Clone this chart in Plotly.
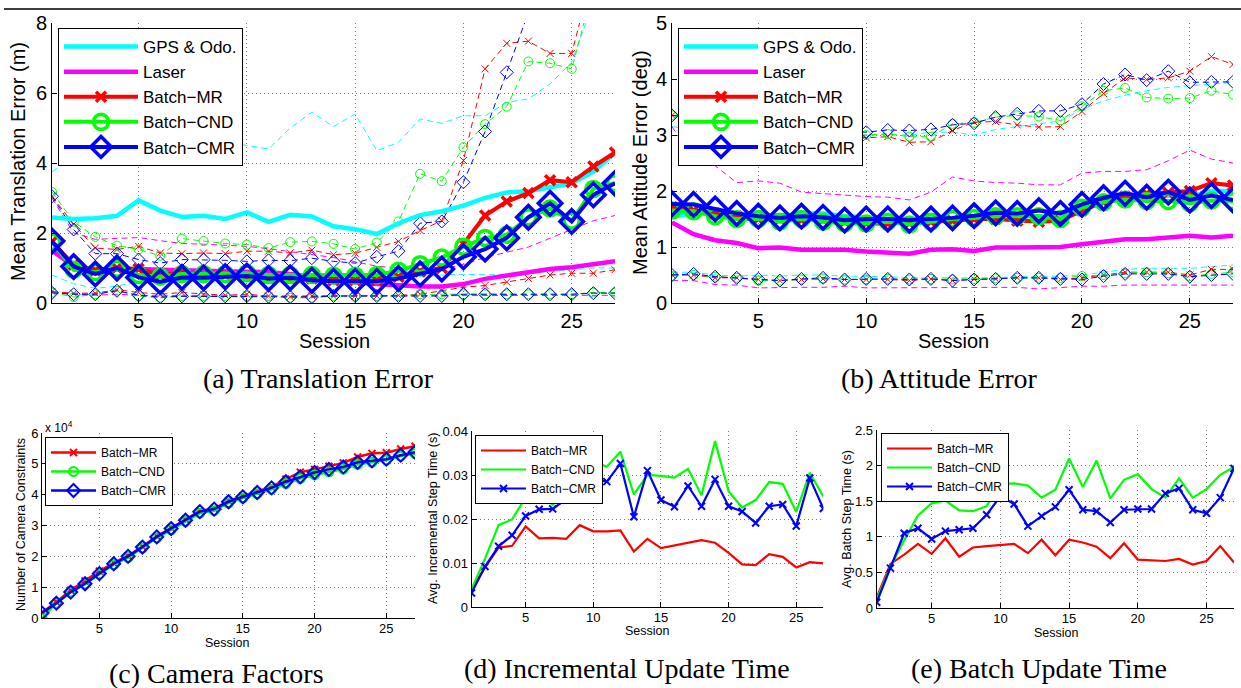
import plotly.graph_objects as go

W, H = 1241, 688
sessions = list(range(1, 28))

# ---------------- (a) Translation error (m) ----------------
trans_gps = [2.44, 2.40, 2.42, 2.49, 2.93, 2.64, 2.46, 2.49, 2.40, 2.59, 2.32, 2.52, 2.47,
             2.19, 2.11, 1.97, 2.28, 2.51, 2.62, 2.78, 3.00, 3.16, 3.19, 3.29, 3.42, 3.75, 4.30]
trans_gps_hi = [3.75, 4.20, 4.50, 4.60, 4.80, 4.70, 4.60, 4.50, 4.60, 4.50, 4.40, 5.00, 5.45,
                5.04, 5.40, 4.35, 4.59, 5.26, 5.13, 5.35, 5.35, 5.73, 5.83, 6.26, 6.88, 8.60, 10.0]
trans_gps_lo = [0.80, 0.55, 0.42, 0.48, 0.62, 0.60, 0.62, 0.60, 0.60, 0.60, 0.60, 0.60, 0.60,
                0.62, 0.62, 0.65, 0.70, 0.75, 0.80, 0.82, 0.80, 0.80, 0.85, 0.90, 0.95, 1.00, 1.00]
trans_laser = [1.50, 1.05, 0.95, 0.97, 0.97, 0.95, 0.94, 0.93, 0.92, 0.90, 0.88, 0.83, 0.75,
               0.66, 0.60, 0.54, 0.50, 0.47, 0.47, 0.54, 0.69, 0.78, 0.88, 0.97, 1.02, 1.10, 1.19]
trans_laser_hi = [3.00, 2.00, 1.82, 1.85, 1.87, 1.78, 1.70, 1.68, 1.65, 1.62, 1.55, 1.47, 1.40,
                  1.30, 1.18, 1.05, 1.00, 0.98, 0.97, 1.10, 1.30, 1.45, 1.60, 1.85, 2.10, 2.35, 2.50]
trans_laser_lo = [0.30, 0.25, 0.22, 0.25, 0.22, 0.20, 0.22, 0.20, 0.20, 0.20, 0.20, 0.20, 0.20,
                  0.20, 0.20, 0.20, 0.20, 0.20, 0.20, 0.21, 0.21, 0.21, 0.21, 0.21, 0.22, 0.22, 0.22]
trans_mr = [1.75, 1.09, 0.93, 1.00, 0.97, 0.80, 0.87, 0.80, 0.80, 0.75, 0.72, 0.70, 0.70,
            0.65, 0.65, 0.65, 0.75, 0.90, 1.00, 1.69, 2.50, 2.90, 3.14, 3.51, 3.45, 3.90, 4.30]
trans_mr_hi = [3.05, 2.25, 1.57, 1.53, 1.62, 1.43, 1.41, 1.43, 1.41, 1.48, 1.48, 1.43, 1.51,
               1.38, 1.42, 1.59, 1.76, 2.07, 2.35, 4.07, 6.69, 7.42, 7.48, 7.13, 7.13, 9.50, 11.0]
trans_mr_lo = [0.33, 0.28, 0.28, 0.38, 0.30, 0.25, 0.30, 0.25, 0.22, 0.25, 0.20, 0.18, 0.20,
               0.20, 0.20, 0.20, 0.22, 0.25, 0.35, 0.45, 0.50, 0.60, 0.70, 0.80, 0.85, 0.85, 0.95]
trans_cnd = [1.75, 0.95, 0.88, 0.98, 0.80, 0.75, 0.83, 0.83, 0.83, 0.85, 0.80, 0.80, 0.80,
             0.78, 0.78, 0.80, 0.92, 1.11, 1.30, 1.61, 1.86, 1.95, 2.45, 2.70, 2.35, 3.26, 3.42]
trans_cnd_hi = [3.17, 2.32, 1.89, 1.64, 1.53, 1.35, 1.84, 1.77, 1.70, 1.67, 1.57, 1.74, 1.76,
                1.69, 1.54, 1.73, 2.33, 3.69, 3.48, 4.45, 5.11, 5.61, 6.90, 6.85, 6.69, 9.00, 10.5]
trans_cnd_lo = [0.30, 0.17, 0.25, 0.35, 0.20, 0.15, 0.20, 0.20, 0.20, 0.20, 0.20, 0.15, 0.15,
                0.20, 0.20, 0.20, 0.20, 0.25, 0.25, 0.25, 0.25, 0.25, 0.25, 0.25, 0.25, 0.30, 0.30]
trans_cmr = [1.77, 1.04, 0.83, 1.00, 0.73, 0.61, 0.73, 0.72, 0.75, 0.77, 0.70, 0.72, 0.65,
             0.62, 0.62, 0.62, 0.70, 0.83, 0.97, 1.32, 1.54, 1.86, 2.45, 2.85, 2.33, 3.09, 3.42]
trans_cmr_hi = [3.05, 2.10, 1.41, 1.41, 1.24, 1.14, 1.24, 1.24, 1.22, 1.19, 1.22, 1.21, 1.28,
                1.19, 1.14, 1.32, 1.48, 2.28, 2.33, 3.45, 4.90, 6.59, 8.40, 10.0, 11.0, 12.0, 13.0]
trans_cmr_lo = [0.29, 0.25, 0.25, 0.35, 0.22, 0.17, 0.19, 0.19, 0.19, 0.20, 0.18, 0.17, 0.17,
                0.20, 0.20, 0.20, 0.20, 0.20, 0.20, 0.25, 0.25, 0.25, 0.25, 0.25, 0.25, 0.28, 0.28]

# ---------------- (b) Attitude error (deg) ----------------
att_gps = [1.55, 1.60, 1.60, 1.58, 1.58, 1.55, 1.60, 1.60, 1.55, 1.52, 1.50, 1.48, 1.52,
           1.50, 1.50, 1.55, 1.55, 1.55, 1.52, 1.70, 1.85, 1.90, 1.90, 1.92, 1.90, 2.00, 2.00]
att_gps_hi = [3.15, 3.10, 3.05, 3.00, 3.00, 3.00, 3.00, 3.00, 3.00, 3.00, 3.00, 3.00, 3.05,
              3.05, 3.00, 3.10, 3.15, 3.20, 3.25, 3.46, 3.61, 3.71, 3.79, 3.85, 3.88, 3.90, 3.94]
att_gps_lo = [0.55, 0.55, 0.50, 0.48, 0.50, 0.48, 0.50, 0.50, 0.48, 0.48, 0.47, 0.45, 0.45,
              0.45, 0.45, 0.45, 0.47, 0.47, 0.48, 0.50, 0.55, 0.60, 0.62, 0.62, 0.62, 0.65, 0.68]
att_laser = [1.44, 1.23, 1.12, 1.07, 0.98, 0.99, 0.95, 0.95, 0.95, 0.92, 0.90, 0.88, 0.95,
             0.96, 0.93, 0.99, 0.99, 0.99, 1.00, 1.05, 1.10, 1.14, 1.14, 1.17, 1.20, 1.17, 1.20]
att_laser_hi = [3.15, 2.55, 2.45, 2.15, 2.18, 2.14, 1.98, 1.95, 1.92, 1.90, 1.89, 1.84, 1.98,
                2.25, 2.18, 2.15, 2.14, 2.11, 2.11, 2.32, 2.35, 2.35, 2.38, 2.54, 2.73, 2.57, 2.50]
att_laser_lo = [0.40, 0.40, 0.33, 0.32, 0.27, 0.28, 0.28, 0.28, 0.30, 0.27, 0.27, 0.27, 0.28,
                0.28, 0.28, 0.28, 0.28, 0.25, 0.28, 0.30, 0.30, 0.32, 0.32, 0.32, 0.32, 0.32, 0.32]
att_mr = [1.71, 1.65, 1.60, 1.55, 1.50, 1.50, 1.48, 1.48, 1.45, 1.42, 1.42, 1.43, 1.45,
          1.47, 1.50, 1.50, 1.47, 1.45, 1.47, 1.65, 1.80, 1.90, 1.95, 1.97, 2.00, 2.14, 2.10]
att_mr_hi = [3.35, 3.30, 3.25, 3.20, 3.15, 3.10, 3.05, 3.05, 3.00, 2.95, 2.97, 2.87, 2.88,
             3.08, 3.23, 3.24, 3.18, 3.14, 3.15, 3.42, 3.74, 4.02, 3.99, 4.02, 4.14, 4.40, 4.26]
att_mr_lo = [0.50, 0.50, 0.45, 0.45, 0.42, 0.40, 0.42, 0.43, 0.42, 0.42, 0.42, 0.40, 0.43,
             0.40, 0.43, 0.43, 0.45, 0.45, 0.42, 0.45, 0.50, 0.55, 0.55, 0.55, 0.50, 0.60, 0.60]
att_cnd = [1.65, 1.64, 1.55, 1.50, 1.50, 1.45, 1.50, 1.45, 1.42, 1.42, 1.45, 1.40, 1.45,
           1.50, 1.52, 1.55, 1.55, 1.55, 1.50, 1.70, 1.80, 1.85, 1.82, 1.82, 1.78, 1.83, 1.82]
att_cnd_hi = [3.35, 3.30, 3.25, 3.20, 3.15, 3.10, 3.08, 3.05, 3.02, 3.00, 3.02, 2.97, 2.97,
              3.20, 3.22, 3.32, 3.35, 3.33, 3.26, 3.51, 3.79, 3.84, 3.67, 3.65, 3.66, 3.79, 3.72]
att_cnd_lo = [0.48, 0.50, 0.47, 0.45, 0.40, 0.40, 0.42, 0.44, 0.42, 0.42, 0.43, 0.42, 0.43,
              0.42, 0.43, 0.44, 0.45, 0.45, 0.45, 0.48, 0.50, 0.53, 0.55, 0.53, 0.48, 0.52, 0.55]
att_cmr = [1.77, 1.76, 1.68, 1.60, 1.55, 1.52, 1.55, 1.53, 1.48, 1.50, 1.50, 1.48, 1.50,
           1.52, 1.56, 1.61, 1.60, 1.65, 1.60, 1.76, 1.88, 1.96, 1.89, 1.98, 1.84, 1.92, 1.84]
att_cmr_hi = [3.35, 3.32, 3.28, 3.22, 3.18, 3.12, 3.10, 3.08, 3.05, 3.05, 3.09, 3.08, 3.10,
              3.18, 3.21, 3.32, 3.38, 3.43, 3.43, 3.55, 3.91, 4.08, 3.98, 4.14, 3.94, 3.95, 3.95]
att_cmr_lo = [0.50, 0.52, 0.47, 0.45, 0.43, 0.40, 0.43, 0.45, 0.42, 0.43, 0.43, 0.42, 0.43,
              0.40, 0.42, 0.43, 0.45, 0.45, 0.43, 0.42, 0.48, 0.52, 0.52, 0.52, 0.47, 0.50, 0.52]

# ---------------- (c) Camera factors (x 10^4) ----------------
cam_mr = [0.18, 0.52, 0.90, 1.20, 1.52, 1.78, 2.02, 2.32, 2.65, 2.92, 3.20, 3.47, 3.55, 3.80,
          3.96, 4.10, 4.25, 4.50, 4.73, 4.82, 4.92, 5.03, 5.22, 5.34, 5.36, 5.48, 5.57]
cam_cnd = [0.00, 0.48, 0.84, 1.10, 1.42, 1.73, 1.96, 2.27, 2.60, 2.86, 3.13, 3.40, 3.48, 3.73,
           3.89, 4.03, 4.17, 4.36, 4.52, 4.64, 4.74, 4.83, 4.98, 5.05, 5.12, 5.25, 5.33]
cam_cmr = [0.16, 0.48, 0.84, 1.11, 1.44, 1.76, 2.00, 2.30, 2.63, 2.90, 3.17, 3.45, 3.53, 3.77,
           3.93, 4.07, 4.22, 4.42, 4.58, 4.72, 4.82, 4.90, 5.05, 5.10, 5.15, 5.28, 5.38]

# ---------------- (d) Incremental step time (s) ----------------
inc_mr = [0.0039, 0.0090, 0.0135, 0.0139, 0.0183, 0.0156, 0.0157, 0.0155, 0.0186, 0.0172,
          0.0172, 0.0174, 0.0126, 0.0155, 0.0134, 0.0140, 0.0147, 0.0152, 0.0146, 0.0123,
          0.0097, 0.0095, 0.0120, 0.0114, 0.0090, 0.0102, 0.0099]
inc_cnd = [0.0040, 0.0110, 0.0186, 0.0199, 0.0249, 0.0259, 0.0232, 0.0266, 0.0330, 0.0330,
           0.0319, 0.0353, 0.0256, 0.0300, 0.0298, 0.0294, 0.0314, 0.0254, 0.0377, 0.0263,
           0.0226, 0.0243, 0.0284, 0.0280, 0.0216, 0.0305, 0.0251]
inc_cmr = [0.0032, 0.0092, 0.0138, 0.0163, 0.0207, 0.0222, 0.0223, 0.0245, 0.0290, 0.0290,
           0.0285, 0.0326, 0.0205, 0.0310, 0.0243, 0.0228, 0.0275, 0.0229, 0.0290, 0.0229,
           0.0217, 0.0191, 0.0229, 0.0233, 0.0184, 0.0293, 0.0224]

# ---------------- (e) Batch step time (s) ----------------
bat_mr = [0.15, 0.62, 0.75, 0.90, 0.76, 0.98, 0.72, 0.85, 0.87, 0.88, 0.90, 0.77, 0.96, 0.74,
          0.96, 0.92, 0.86, 0.70, 0.91, 0.68, 0.67, 0.66, 0.69, 0.61, 0.66, 0.87, 0.64]
bat_cnd = [0.12, 0.58, 0.95, 1.30, 1.47, 1.51, 1.37, 1.36, 1.43, 1.74, 1.75, 1.72, 1.55, 1.66,
           2.10, 1.70, 2.07, 1.54, 1.80, 1.88, 1.67, 1.55, 1.82, 1.55, 1.67, 1.87, 1.98]
bat_cmr = [0.08, 0.56, 1.05, 1.12, 0.97, 1.08, 1.10, 1.12, 1.31, 1.57, 1.46, 1.15, 1.29, 1.42,
           1.66, 1.38, 1.36, 1.20, 1.38, 1.39, 1.39, 1.61, 1.68, 1.38, 1.33, 1.55, 1.96]

CYAN, MAG, RED, GRN, BLU = "#00FFFF", "#FF00FF", "#FF0000", "#00FF00", "#0000FF"
SANS = "Liberation Sans, Arial, sans-serif"
SERIF = "Liberation Serif, Times New Roman, serif"


def px_x(p):
    return p / W


def px_y(p):
    return 1 - p / H


fig = go.Figure()


def add(xa, ya, y, color, width, dash="solid", symbol=None, msize=0, mlw=1,
        name=None, legend="legend", show=False):
    mode = "lines+markers" if symbol else "lines"
    marker = dict(symbol=symbol, size=msize, color=color,
                  line=dict(color=color, width=mlw)) if symbol else None
    fig.add_trace(go.Scatter(
        x=sessions, y=y, mode=mode, name=name, xaxis=xa, yaxis=ya,
        line=dict(color=color, width=width, dash=dash),
        marker=marker, showlegend=show, legend=legend, hoverinfo="skip"))


def error_panel(xa, ya, leg, gps, gps_hi, gps_lo, las, las_hi, las_lo,
                mr, mr_hi, mr_lo, cnd, cnd_hi, cnd_lo, cmr, cmr_hi, cmr_lo):
    for s in (gps_hi, gps_lo):
        add(xa, ya, s, CYAN, 1, dash="6px,4px")
    for s in (las_hi, las_lo):
        add(xa, ya, s, MAG, 1, dash="6px,4px")
    for s in (mr_hi, mr_lo):
        add(xa, ya, s, RED, 1, dash="6px,4px", symbol="x-thin-open", msize=7, mlw=1)
    for s in (cnd_hi, cnd_lo):
        add(xa, ya, s, GRN, 1, dash="6px,4px", symbol="circle-open", msize=9, mlw=1)
    for s in (cmr_hi, cmr_lo):
        add(xa, ya, s, BLU, 1, dash="6px,4px", symbol="diamond-open", msize=10, mlw=1)
    add(xa, ya, gps, CYAN, 4.5, name="GPS & Odo.", legend=leg, show=True)
    add(xa, ya, las, MAG, 4.5, name="Laser", legend=leg, show=True)
    add(xa, ya, mr, RED, 4, symbol="x-thin-open", msize=10, mlw=3.5,
        name="Batch\u2212MR", legend=leg, show=True)
    add(xa, ya, cnd, GRN, 4, symbol="circle-open", msize=15, mlw=3.5,
        name="Batch\u2212CND", legend=leg, show=True)
    add(xa, ya, cmr, BLU, 4, symbol="diamond-open", msize=18, mlw=3.5,
        name="Batch\u2212CMR", legend=leg, show=True)


error_panel("x", "y", "legend", trans_gps, trans_gps_hi, trans_gps_lo,
            trans_laser, trans_laser_hi, trans_laser_lo,
            trans_mr, trans_mr_hi, trans_mr_lo, trans_cnd, trans_cnd_hi, trans_cnd_lo,
            trans_cmr, trans_cmr_hi, trans_cmr_lo)
error_panel("x2", "y2", "legend2", att_gps, att_gps_hi, att_gps_lo,
            att_laser, att_laser_hi, att_laser_lo,
            att_mr, att_mr_hi, att_mr_lo, att_cnd, att_cnd_hi, att_cnd_lo,
            att_cmr, att_cmr_hi, att_cmr_lo)

# ---- panel (c) ----
add("x3", "y3", cam_mr, RED, 2.5, symbol="x-thin-open", msize=7, mlw=2,
    name="Batch\u2212MR", legend="legend3", show=True)
add("x3", "y3", cam_cnd, GRN, 2.5, symbol="circle-open", msize=9, mlw=2,
    name="Batch\u2212CND", legend="legend3", show=True)
add("x3", "y3", cam_cmr, BLU, 2.5, symbol="diamond-open", msize=10, mlw=2,
    name="Batch\u2212CMR", legend="legend3", show=True)

# ---- panel (d) ----
add("x4", "y4", inc_mr, RED, 2.2, name="Batch\u2212MR", legend="legend4", show=True)
add("x4", "y4", inc_cnd, GRN, 2.2, name="Batch\u2212CND", legend="legend4", show=True)
add("x4", "y4", inc_cmr, BLU, 2.2, symbol="x-thin-open", msize=7, mlw=2,
    name="Batch\u2212CMR", legend="legend4", show=True)

# ---- panel (e) ----
add("x5", "y5", bat_mr, RED, 2.2, name="Batch\u2212MR", legend="legend5", show=True)
add("x5", "y5", bat_cnd, GRN, 2.2, name="Batch\u2212CND", legend="legend5", show=True)
add("x5", "y5", bat_cmr, BLU, 2.2, symbol="x-thin-open", msize=7, mlw=2,
    name="Batch\u2212CMR", legend="legend5", show=True)

GRID = dict(showgrid=True, gridcolor="#7a7a7a", griddash="1px,3px", gridwidth=1)


def xax(left, right, fsize, anchor, standoff=0):
    d = dict(domain=[px_x(left), px_x(right)], range=[1, 27], anchor=anchor,
             tickvals=[5, 10, 15, 20, 25], showline=True, linecolor="black",
             linewidth=1, ticks="inside", ticklen=5, tickcolor="black",
             ticklabelstandoff=standoff,
             zeroline=False, tickfont=dict(family=SANS, size=fsize, color="black"))
    d.update(GRID)
    return d


def yax(top, bottom, fsize, anchor, rng, dtick):
    d = dict(domain=[px_y(bottom), px_y(top)], range=rng, anchor=anchor,
             dtick=dtick, tick0=0, showline=True, linecolor="black", linewidth=1,
             ticks="inside", ticklen=5, tickcolor="black", zeroline=False,
             tickfont=dict(family=SANS, size=fsize, color="black"))
    d.update(GRID)
    return d


def legend_box(xp, yp, fsize, iw):
    return dict(x=px_x(xp), y=px_y(yp), xanchor="left", yanchor="top",
                bgcolor="white", bordercolor="black", borderwidth=1,
                font=dict(family=SANS, size=fsize, color="black"),
                tracegroupgap=0, itemsizing="trace", itemwidth=iw)


fig.update_layout(
    width=W, height=H, margin=dict(l=0, r=0, t=0, b=0, pad=0, autoexpand=False),
    paper_bgcolor="white", plot_bgcolor="white",
    xaxis=xax(52, 615, 20, "y"),
    yaxis=yax(23, 303, 20, "x", [0, 8], 2),
    xaxis2=xax(672, 1233, 20, "y2"),
    yaxis2=yax(23, 303, 20, "x2", [0, 5], 1),
    xaxis3=xax(42, 415, 13, "y3", -2),
    yaxis3=yax(433, 618, 13, "x3", [0, 6], 1),
    xaxis4=xax(471.5, 823.3, 13, "y4", -2),
    yaxis4=yax(431, 607, 13, "x4", [0, 0.04], 0.01),
    xaxis5=xax(876.7, 1234, 13, "y5", -2),
    yaxis5=yax(430, 608, 13, "x5", [0, 2.5], 0.5),
    legend=legend_box(58, 28, 17, 74),
    legend2=legend_box(678, 28, 17, 74),
    legend3=legend_box(45, 437, 12, 45),
    legend4=legend_box(475, 435, 12, 45),
    legend5=legend_box(881, 433, 12, 45),
)

# top rule
fig.add_shape(type="line", xref="paper", yref="paper", x0=px_x(4), x1=1,
              y0=px_y(9), y1=px_y(9), line=dict(color="black", width=1.5))

annotations = [
    # axis titles
    dict(text="Mean Translation Error (m)", x=18, y=162, angle=-90, size=20, font=SANS),
    dict(text="Mean Attitude Error (deg)", x=640, y=162, angle=-90, size=20, font=SANS),
    dict(text="Number of Camera Constraints", x=21, y=525, angle=-90, size=12.5, font=SANS),
    dict(text="Avg. Incremental Step Time (s)", x=433, y=519, angle=-90, size=12.5, font=SANS),
    dict(text="Avg. Batch Step Time (s)", x=847, y=519, angle=-90, size=12.5, font=SANS),
    dict(text="Session", x=334, y=341, angle=0, size=20, font=SANS),
    dict(text="Session", x=953, y=341, angle=0, size=20, font=SANS),
    dict(text="Session", x=227, y=643, angle=0, size=12.5, font=SANS),
    dict(text="Session", x=647, y=631, angle=0, size=12.5, font=SANS),
    dict(text="Session", x=1056, y=633, angle=0, size=12.5, font=SANS),
    # captions
    dict(text="(a) Translation Error", x=318, y=378, angle=0, size=28, font=SERIF),
    dict(text="(b) Attitude Error", x=939, y=378, angle=0, size=28, font=SERIF),
    dict(text="(c) Camera Factors", x=216, y=673, angle=0, size=28, font=SERIF),
    dict(text="(d) Incremental Update Time", x=627, y=668, angle=0, size=28, font=SERIF),
    dict(text="(e) Batch Update Time", x=1039, y=668, angle=0, size=28, font=SERIF),
]
for a in annotations:
    fig.add_annotation(text=a["text"], xref="paper", yref="paper",
                       x=px_x(a["x"]), y=px_y(a["y"]), xanchor="center", yanchor="middle",
                       textangle=a["angle"], showarrow=False,
                       font=dict(family=a["font"], size=a["size"], color="black"))

fig.add_annotation(text="x 10<sup>4</sup>", xref="paper", yref="paper",
                   x=px_x(43), y=px_y(427), xanchor="left", yanchor="middle",
                   showarrow=False, font=dict(family=SANS, size=12, color="black"))

fig.write_html("out.html", config={"displayModeBar": False},
               post_script="document.body.style.margin='0';")
